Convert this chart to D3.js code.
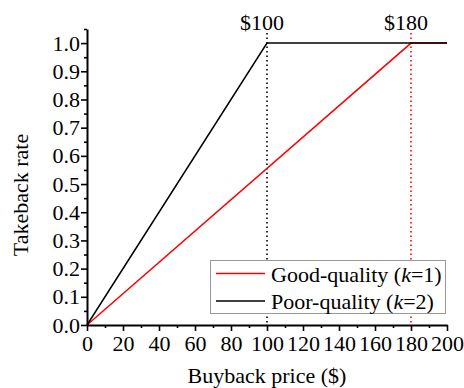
<!DOCTYPE html>
<html>
<head>
<meta charset="utf-8">
<script src="https://cdn.jsdelivr.net/npm/d3@7"></script>
<style>
  html, body { margin: 0; padding: 0; background: #fff; }
  svg { display: block; }
  svg text { font-family: "Liberation Serif", "Times New Roman", serif; fill: #000; }
</style>
</head>
<body>
<svg id="chart" width="464" height="388"></svg>
<script>
// Takeback rate as a function of buyback price, by product quality
const goodPrice = [0, 180, 200];
const goodRate  = [0, 1, 1];
const poorPrice = [0, 100, 200];
const poorRate  = [0, 1, 1];

const thresholds = [100, 180];          // price where each curve saturates
const thresholdLabels = ["$100", "$180"];
const thresholdColors = ["#000", "#ff0000"];

const xMajorTicks = [0, 20, 40, 60, 80, 100, 120, 140, 160, 180, 200];
const xMinorTicks = [10, 30, 50, 70, 90, 110, 130, 150, 170, 190];
const yMajorTicks = [0, 0.1, 0.2, 0.3, 0.4, 0.5, 0.6, 0.7, 0.8, 0.9, 1.0];
const yMinorTicks = [0.05, 0.15, 0.25, 0.35, 0.45, 0.55, 0.65, 0.75, 0.85, 0.95, 1.05];

const seriesNames = ["Good-quality", "Poor-quality"];
const seriesK = ["1", "2"];
const seriesColors = ["#ff0000", "#000000"];

const serif = '"Liberation Serif", "Times New Roman", serif';
const fontSize = 22;

const svg = d3.select("#chart");
const plotLeft = 87, plotRight = 447, plotTop = 29, plotBottom = 325;

const x = d3.scaleLinear().domain([0, 200]).range([plotLeft, plotRight]);
const y = d3.scaleLinear().domain([0, 1.05]).range([plotBottom, plotTop]);

// Threshold markers (dotted verticals with price labels)
thresholds.forEach((t, i) => {
  svg.append("line")
    .attr("x1", x(t)).attr("x2", x(t))
    .attr("y1", 33).attr("y2", plotBottom)
    .attr("stroke", thresholdColors[i])
    .attr("stroke-width", 1.6)
    .attr("stroke-dasharray", "1.6,2.9");
  svg.append("text")
    .attr("x", x(t) - 5).attr("y", 30)
    .attr("text-anchor", "middle")
    .attr("font-size", fontSize)
    .text(thresholdLabels[i]);
});

// Curves
const line = d3.line().x(d => x(d[0])).y(d => y(d[1]));
const good = goodPrice.map((p, i) => [p, goodRate[i]]);
const poor = poorPrice.map((p, i) => [p, poorRate[i]]);
svg.append("path").datum(good).attr("d", line)
  .attr("fill", "none").attr("stroke", seriesColors[0]).attr("stroke-width", 1.5);
svg.append("path").datum(poor).attr("d", line)
  .attr("fill", "none").attr("stroke", seriesColors[1]).attr("stroke-width", 1.5);

// Axes
const xAxis = svg.append("g").attr("transform", `translate(0,${plotBottom})`);
xAxis.call(d3.axisBottom(x).tickValues(xMajorTicks).tickSize(6).tickSizeOuter(0).tickFormat(d3.format("d")));
xAxis.append("g").call(d3.axisBottom(x).tickValues(xMinorTicks).tickSize(3).tickSizeOuter(0).tickFormat(""))
  .select(".domain").remove();

const yAxis = svg.append("g").attr("transform", `translate(${plotLeft},0)`);
yAxis.call(d3.axisLeft(y).tickValues(yMajorTicks).tickSize(6).tickSizeOuter(0).tickFormat(d3.format(".1f")));
yAxis.append("g").call(d3.axisLeft(y).tickValues(yMinorTicks).tickSize(3).tickSizeOuter(0).tickFormat(""))
  .select(".domain").remove();

svg.selectAll("g").attr("font-family", serif);
svg.selectAll(".domain").attr("stroke", "#000").attr("stroke-width", 2);
svg.selectAll(".tick line").attr("stroke", "#000").attr("stroke-width", 1.6);
svg.selectAll(".tick text").attr("font-size", fontSize).attr("fill", "#000");
xAxis.selectAll(".tick text").attr("y", 10);
yAxis.selectAll(".tick text").attr("x", -7);

// Axis titles
svg.append("text")
  .attr("x", 267).attr("y", 382.5)
  .attr("text-anchor", "middle").attr("font-size", fontSize)
  .text("Buyback price ($)");
svg.append("text")
  .attr("transform", `translate(28,195) rotate(-90)`)
  .attr("text-anchor", "middle").attr("font-size", fontSize)
  .text("Takeback rate");

// Legend
const lg = svg.append("g");
lg.append("rect")
  .attr("x", 210.5).attr("y", 260.5).attr("width", 235).attr("height", 53)
  .attr("fill", "#fff").attr("stroke", "#999").attr("stroke-width", 1);
seriesNames.forEach((name, i) => {
  const cy = 273.5 + i * 27.5;
  lg.append("line")
    .attr("x1", 216).attr("x2", 265).attr("y1", cy).attr("y2", cy)
    .attr("stroke", seriesColors[i]).attr("stroke-width", 1.5);
  const t = lg.append("text").attr("x", 271).attr("y", cy + 8).attr("font-size", fontSize);
  t.append("tspan").text(name + " (");
  t.append("tspan").attr("font-style", "italic").text("k");
  t.append("tspan").text("=" + seriesK[i] + ")");
});
svg.selectAll("text").attr("font-family", serif);
</script>
</body>
</html>
